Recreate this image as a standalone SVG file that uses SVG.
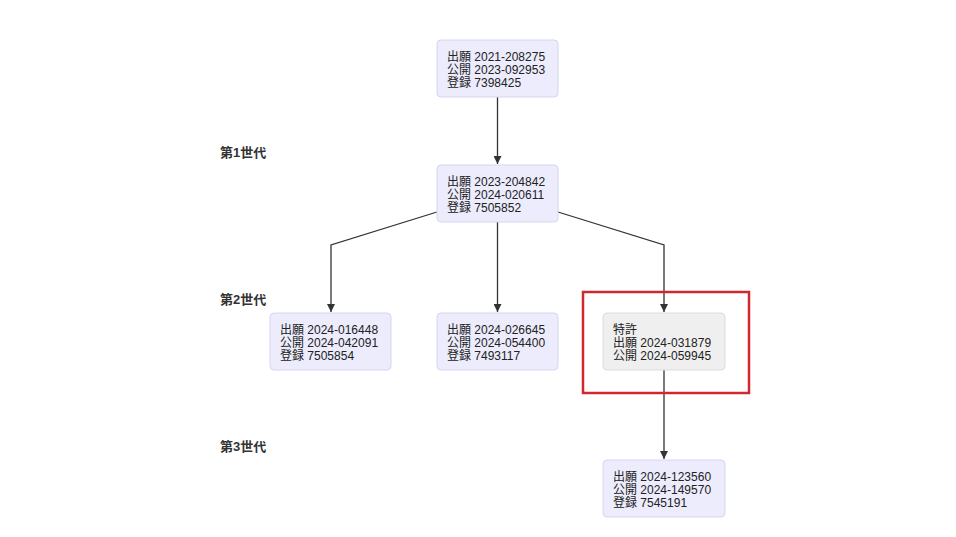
<svg xmlns="http://www.w3.org/2000/svg" width="956" height="537" viewBox="0 0 956 537">
<style>
.n rect{fill:#ececfd;stroke:#d4d4f0;stroke-width:1}
.g rect{fill:#efefef;stroke:#dcdcdc;stroke-width:1}
text{font-family:"Liberation Sans","Noto Sans CJK JP",sans-serif;font-size:12px;fill:#222}
.lbl{font-weight:bold;font-size:13px;fill:#333}
.e{fill:none;stroke:#333;stroke-width:1.3;marker-end:url(#ah)}
</style>
<defs>
<marker id="ah" viewBox="0 0 10 10" refX="10" refY="5" markerWidth="8" markerHeight="8" markerUnits="userSpaceOnUse" orient="auto"><path d="M0,0 L10,5 L0,10 z" fill="#333"/></marker>
</defs>
<rect width="956" height="537" fill="#fff"/>
<g id="labels">
<text class="lbl" x="220" y="157">第1世代</text>
<text class="lbl" x="220" y="304">第2世代</text>
<text class="lbl" x="220" y="451">第3世代</text>
</g>
<g id="connectors">
<path class="e" d="M497.5,97 L497.5,164"/>
<path class="e" d="M437,212 L331,245 L331,312"/>
<path class="e" d="M497.5,222 L497.5,312"/>
<path class="e" d="M558,212 L664,245 L664,312"/>
<path class="e" d="M664,370 L664,459"/>
</g>
<g id="n1" class="n"><rect x="437" y="40" width="121" height="57" rx="4"/><text x="447" y="61">出願 2021-208275</text><text x="447" y="74">公開 2023-092953</text><text x="447" y="87">登録 7398425</text></g>
<g id="n2" class="n"><rect x="437" y="165" width="121" height="57" rx="4"/><text x="447" y="186">出願 2023-204842</text><text x="447" y="199">公開 2024-020611</text><text x="447" y="212">登録 7505852</text></g>
<g id="n3" class="n"><rect x="270" y="313" width="121" height="57" rx="4"/><text x="280" y="334">出願 2024-016448</text><text x="280" y="347">公開 2024-042091</text><text x="280" y="360">登録 7505854</text></g>
<g id="n4" class="n"><rect x="437" y="313" width="121" height="57" rx="4"/><text x="447" y="334">出願 2024-026645</text><text x="447" y="347">公開 2024-054400</text><text x="447" y="360">登録 7493117</text></g>
<g id="n5" class="g"><rect x="603" y="313" width="122" height="57" rx="4"/><text x="613" y="334">特許</text><text x="613" y="347">出願 2024-031879</text><text x="613" y="360">公開 2024-059945</text></g>
<g id="n6" class="n"><rect x="603" y="460" width="122" height="57" rx="4"/><text x="613" y="481">出願 2024-123560</text><text x="613" y="494">公開 2024-149570</text><text x="613" y="507">登録 7545191</text></g>
<g id="highlight"><rect x="583" y="292" width="166" height="101" fill="none" stroke="#d0282e" stroke-width="2.5"/></g>
</svg>
